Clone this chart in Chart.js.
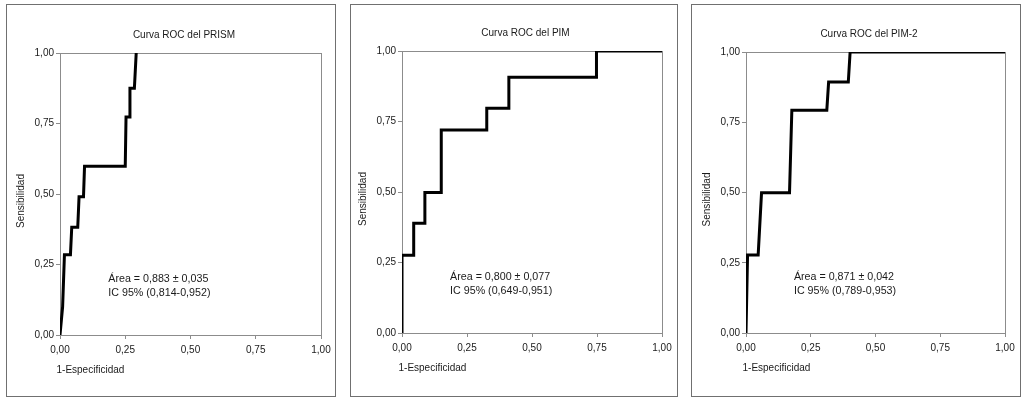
<!DOCTYPE html>
<html><head><meta charset="utf-8">
<script src="https://cdn.jsdelivr.net/npm/chart.js@4"></script>
<style>
html,body{margin:0;padding:0;background:#fff;width:1024px;height:401px;overflow:hidden;}
.box{position:absolute;border:1px solid #707070;box-sizing:border-box;}
canvas{position:absolute;left:0;top:0;}
</style></head><body>
<div class="box" style="left:6px;top:4px;width:330px;height:393px"></div>
<div class="box" style="left:350px;top:4px;width:328px;height:393px"></div>
<div class="box" style="left:691px;top:4px;width:330px;height:393px"></div>
<canvas id="c1" width="1024" height="401"></canvas>
<canvas id="c2" width="1024" height="401"></canvas>
<canvas id="c3" width="1024" height="401"></canvas>
<script>
// ---- data ----
const tickValues = [0, 0.25, 0.5, 0.75, 1];
const tickLabels = ['0,00', '0,25', '0,50', '0,75', '1,00'];
const titles = ['Curva ROC del PRISM', 'Curva ROC del PIM', 'Curva ROC del PIM-2'];
const xAxisTitle = '1-Especificidad';
const yAxisTitle = 'Sensibilidad';
const areaLabels = ['Área = 0,883 ± 0,035', 'Área = 0,800 ± 0,077', 'Área = 0,871 ± 0,042'];
const ciLabels = ['IC 95% (0,814-0,952)', 'IC 95% (0,649-0,951)', 'IC 95% (0,789-0,953)'];

const prismX = [0, 0.010, 0.017, 0.040, 0.045, 0.068, 0.073, 0.090, 0.094, 0.250, 0.253, 0.265, 0.268, 0.285, 0.292];
const prismY = [0, 0.100, 0.285, 0.285, 0.382, 0.382, 0.490, 0.490, 0.598, 0.598, 0.773, 0.773, 0.875, 0.875, 1.000];

const pimX = [0, 0, 0.045, 0.045, 0.088, 0.088, 0.151, 0.151, 0.326, 0.326, 0.411, 0.411, 0.748, 0.748, 1.0];
const pimY = [0, 0.276, 0.276, 0.389, 0.389, 0.498, 0.498, 0.720, 0.720, 0.797, 0.797, 0.907, 0.907, 1.0, 1.0];

const pim2X = [0, 0.006, 0.047, 0.060, 0.168, 0.177, 0.312, 0.319, 0.395, 0.402, 1.0];
const pim2Y = [0, 0.278, 0.278, 0.499, 0.499, 0.793, 0.793, 0.893, 0.893, 1.0, 1.0];

// ---- rendering ----
const FONT = '"Liberation Sans", Arial, Helvetica, sans-serif';
const TEXT = '#1a1a1a';
const AXIS = '#8c8c8c';

const rocText = {
  id: 'rocText',
  beforeDatasetsDraw(chart) {
    const a = chart.chartArea, ctx = chart.ctx;
    ctx.save();
    ctx.strokeStyle = AXIS; ctx.lineWidth = 1;
    ctx.strokeRect(Math.round(a.left) + 0.5, Math.round(a.top) + 0.5, Math.round(a.right - a.left), Math.round(a.bottom - a.top));
    ctx.restore();
  },
  afterDraw(chart, args, o) {
    const a = chart.chartArea, ctx = chart.ctx;
    const xs = chart.scales.x, ys = chart.scales.y;
    ctx.save();
    ctx.fillStyle = TEXT;
    ctx.font = '10px ' + FONT;
    ctx.textAlign = 'center'; ctx.textBaseline = 'middle';
    ctx.fillText(o.title, (a.left + a.right) / 2 - 6.5, a.top - 18);
    ctx.textAlign = 'left';
    ctx.fillText(xAxisTitle, a.left - 3.5, a.bottom + 35);
    ctx.save();
    ctx.translate(a.left - 39, (a.top + a.bottom) / 2 + 7);
    ctx.rotate(-Math.PI / 2);
    ctx.textAlign = 'center';
    ctx.fillText(yAxisTitle, 0, 0);
    ctx.restore();
    ctx.font = '10.7px ' + FONT;
    ctx.textAlign = 'left';
    ctx.fillText(o.area, xs.getPixelForValue(0.185), ys.getPixelForValue(0.200));
    ctx.fillText(o.ci, xs.getPixelForValue(0.185), ys.getPixelForValue(0.148));
    ctx.restore();
  }
};

function makeChart(id, xs, ys, idx, plot) {
  const W = 1024, H = 401, YW = 50, XH = 30;
  const pts = xs.map((x, i) => ({ x: x, y: ys[i] }));
  const tickFont = { family: FONT, size: 10 };
  return new Chart(document.getElementById(id), {
    type: 'scatter',
    data: { datasets: [{ data: pts, showLine: true, borderColor: '#000', borderWidth: 3,
      pointRadius: 0, pointHoverRadius: 0, tension: 0, borderJoinStyle: 'miter', borderCapStyle: 'butt', fill: false }] },
    options: {
      responsive: false, animation: false, devicePixelRatio: 1,
      layout: { padding: { left: plot.L - YW, top: plot.T, right: W - plot.R, bottom: H - plot.B - XH } },
      plugins: { legend: { display: false }, tooltip: { enabled: false }, title: { display: false },
        rocText: { title: titles[idx], area: areaLabels[idx], ci: ciLabels[idx] } },
      events: [],
      scales: {
        x: { type: 'linear', min: 0, max: 1,
          afterBuildTicks: s => { s.ticks = tickValues.map(v => ({ value: v })); },
          ticks: { callback: (v, i) => tickLabels[i], font: tickFont, color: TEXT, padding: 5, maxRotation: 0, autoSkip: false },
          grid: { drawOnChartArea: false, drawTicks: true, tickLength: 4, color: AXIS },
          border: { display: true, color: AXIS, width: 1 },
          afterFit: s => { s.height = XH; s.paddingLeft = 0; s.paddingRight = 0; } },
        y: { type: 'linear', min: 0, max: 1,
          afterBuildTicks: s => { s.ticks = tickValues.map(v => ({ value: v })); },
          ticks: { callback: (v, i) => tickLabels[i], font: tickFont, color: TEXT, padding: 2, autoSkip: false },
          grid: { drawOnChartArea: false, drawTicks: true, tickLength: 4, color: AXIS },
          border: { display: true, color: AXIS, width: 1 },
          afterFit: s => { s.width = YW; s.paddingTop = 0; s.paddingBottom = 0; } }
      }
    },
    plugins: [rocText]
  });
}

makeChart('c1', prismX, prismY, 0, { L: 60, T: 53, R: 321, B: 335 });
makeChart('c2', pimX, pimY, 1, { L: 402, T: 51, R: 662, B: 333 });
makeChart('c3', pim2X, pim2Y, 2, { L: 746, T: 52, R: 1005, B: 333 });
</script>
</body></html>
